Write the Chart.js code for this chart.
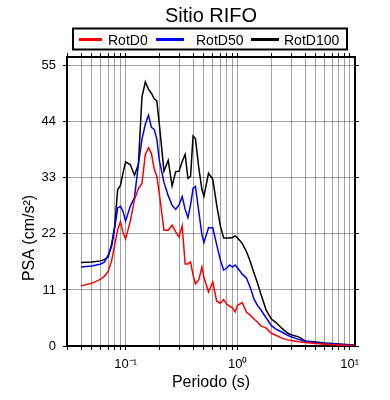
<!DOCTYPE html>
<html>
<head>
<meta charset="utf-8">
<script src="https://cdn.jsdelivr.net/npm/chart.js@4.4.1/dist/chart.umd.min.js"></script>
<style>
  html, body { margin: 0; padding: 0; background: #ffffff; }
  #wrap { width: 390px; height: 400px; }
</style>
</head>
<body>
<div id="wrap"><canvas id="c" width="390" height="400"></canvas></div>
<script>
// ---- data ----
const chartTitle = 'Sitio RIFO';
const xTitle = 'Periodo (s)';
const yTitle = 'PSA (cm/s²)';
const seriesNames = ['RotD0', 'RotD50', 'RotD100'];
const seriesColors = ['#ff0000', '#0000ff', '#000000'];

const periods = [0.04, 0.05, 0.06, 0.065, 0.07, 0.075, 0.08, 0.085, 0.09, 0.095,
  0.1, 0.11, 0.12, 0.13, 0.14, 0.15, 0.16, 0.17, 0.18, 0.19,
  0.2, 0.22, 0.24, 0.26, 0.28, 0.3, 0.32, 0.34, 0.36, 0.38,
  0.4, 0.42, 0.45, 0.48, 0.5, 0.55, 0.6, 0.65, 0.7, 0.75,
  0.8, 0.85, 0.9, 0.95, 1.0, 1.1, 1.2, 1.3, 1.4, 1.5,
  1.6, 1.8, 2.0, 2.2, 2.5, 2.8, 3.0, 3.5, 4, 5,
  6, 7, 8, 10, 11];

const rotD0 = [11.8, 12.3, 13.1, 13.7, 14.7, 16.7, 19.9, 22.8, 24.4, 22.2,
  21.0, 24.4, 28.7, 30.9, 31.9, 37.6, 38.9, 37.8, 34.7, 33.3,
  29.9, 22.7, 22.7, 23.7, 22.4, 21.4, 23.6, 16.1, 16.1, 16.5,
  13.9, 12.2, 13.0, 15.5, 13.5, 10.6, 12.6, 8.8, 8.4, 9.1,
  8.2, 7.8, 7.5, 6.7, 8.0, 8.5, 6.6, 6.0, 5.3, 4.7,
  4.0, 3.5, 2.5, 2.1, 1.5, 1.2, 1.1, 0.83, 0.67, 0.47,
  0.34, 0.26, 0.18, 0.1, 0.08];

const rotD50 = [15.5, 15.7, 16.1, 16.5, 17.9, 19.5, 23.2, 27.1, 27.4, 26.4,
  24.5, 27.4, 29.1, 35.6, 40.6, 43.5, 45.3, 42.9, 42.5, 40.6,
  36.4, 32.1, 29.5, 27.6, 26.8, 27.7, 29.3, 26.8, 25.2, 27.7,
  30.9, 31.3, 26.4, 21.8, 20.3, 23.2, 23.2, 19.9, 16.9, 14.9,
  15.3, 15.9, 15.5, 15.9, 15.3, 14.1, 13.3, 11.4, 9.2, 8.0,
  7.2, 5.5, 4.0, 3.3, 2.7, 2.1, 1.8, 1.3, 0.87, 0.63,
  0.47, 0.37, 0.3, 0.18, 0.14];

const rotD100 = [16.4, 16.5, 16.7, 17.0, 17.5, 19.9, 23.6, 30.7, 31.5, 34.0,
  36.1, 35.6, 33.5, 35.6, 48.9, 51.8, 50.4, 49.6, 48.5, 48.1,
  43.5, 34.3, 36.4, 31.4, 34.2, 34.3, 36.2, 37.6, 32.9, 33.3,
  41.2, 40.7, 35.0, 30.7, 29.4, 33.9, 32.7, 27.7, 23.6, 21.2,
  21.2, 21.2, 21.3, 21.6, 21.2, 20.1, 18.5, 16.5, 14.3, 12.4,
  10.4, 7.0, 5.3, 4.6, 3.4, 2.5, 2.2, 1.8, 1.0, 0.8,
  0.6, 0.47, 0.37, 0.24, 0.2];

const xMajorTicks = [0.1, 1, 10];
const xMajorLabels = ['10⁻¹', '10⁰', '10¹'];
const xMinorMultipliers = [1, 2, 3, 4, 5, 6, 7, 8, 9];
const xDecades = [0.01, 0.1, 1, 10];
const yTicks = [0, 11, 22, 33, 44, 55];
const yTickLabels = ['0', '11', '22', '33', '44', '55'];

const xMin = 0.03, xMax = 11.15;
const yMin = 0, yMax = 56.7;

// ---- build ----
const seriesValues = [rotD0, rotD50, rotD100];
const datasets = seriesValues.map((vals, i) => ({
  label: seriesNames[i],
  data: periods.map((p, k) => ({ x: p, y: vals[k] })),
  borderColor: seriesColors[i],
  backgroundColor: seriesColors[i],
  borderWidth: 1.5,
  pointRadius: 0,
  tension: 0,
  showLine: true,
  fill: false
}));

function xTickObjects() {
  const out = [];
  xDecades.forEach(d => xMinorMultipliers.forEach(m => {
    const v = parseFloat((m * d).toPrecision(6));
    if (v >= xMin - 1e-9 && v <= xMax + 1e-9) out.push({ value: v });
  }));
  return out;
}
function xLabelFor(v) {
  for (let i = 0; i < xMajorTicks.length; i++) {
    if (Math.abs(v - xMajorTicks[i]) < 1e-9 * Math.max(1, v)) return xMajorLabels[i];
  }
  return '';
}

const FONT = 'Liberation Sans, Arial, Helvetica, sans-serif';
const GRID = 'rgba(0,0,0,0.36)';

const decorPlugin = {
  id: 'decor',
  afterDraw(chart) {
    const ctx = chart.ctx;
    const ca = chart.chartArea;
    ctx.save();
    ctx.fillStyle = '#000';
    // title
    ctx.font = '20px ' + FONT;
    ctx.textAlign = 'center';
    ctx.textBaseline = 'alphabetic';
    ctx.fillText(chartTitle, (ca.left + ca.right) / 2, 22);
    // x title
    ctx.font = '16px ' + FONT;
    ctx.fillText(xTitle, (ca.left + ca.right) / 2, 387);
    // y title
    ctx.save();
    ctx.translate(34, 238);
    ctx.rotate(-Math.PI / 2);
    ctx.fillText(yTitle, 0, 0);
    ctx.restore();
    // legend box
    ctx.lineWidth = 2;
    ctx.strokeStyle = '#000';
    ctx.strokeRect(73, 28.5, 274, 21);
    const sw = [[79, 102], [156, 184], [251, 279]];
    const tx = [108, 196, 284];
    ctx.font = '14px ' + FONT;
    ctx.textAlign = 'left';
    chart.data.datasets.forEach((ds, i) => {
      ctx.strokeStyle = ds.borderColor;
      ctx.lineWidth = 3;
      ctx.beginPath();
      ctx.moveTo(sw[i][0], 39.5);
      ctx.lineTo(sw[i][1], 39.5);
      ctx.stroke();
      ctx.fillStyle = '#000';
      ctx.fillText(ds.label, tx[i], 44.5);
    });
    ctx.restore();
  }
};

new Chart(document.getElementById('c'), {
  type: 'scatter',
  data: { datasets },
  plugins: [decorPlugin],
  options: {
    responsive: false,
    animation: false,
    devicePixelRatio: 1,
    layout: { padding: { left: 0, right: 30, top: 52, bottom: 0 } },
    plugins: { legend: { display: false }, tooltip: { enabled: false }, title: { display: false } },
    scales: {
      x: {
        type: 'logarithmic',
        position: 'bottom',
        min: xMin, max: xMax,
        afterBuildTicks: s => { s.ticks = xTickObjects(); },
        afterFit: s => { s.height = 54; s.paddingLeft = 0; s.paddingRight = 0; },
        grid: { color: GRID, lineWidth: 1, drawTicks: true, tickLength: 4, tickColor: '#000', tickWidth: 1 },
        border: { display: true, color: '#000', width: 2 },
        ticks: {
          autoSkip: false, maxRotation: 0, minRotation: 0, padding: 7,
          color: '#000', font: { family: FONT, size: 13 },
          callback: v => xLabelFor(v)
        }
      },
      x2: {
        type: 'logarithmic',
        position: 'top',
        min: xMin, max: xMax,
        afterBuildTicks: s => { s.ticks = xTickObjects(); },
        afterFit: s => { s.height = 5; s.paddingLeft = 0; s.paddingRight = 0; },
        grid: { drawOnChartArea: false, drawTicks: true, tickLength: 4, tickColor: '#000', tickWidth: 1 },
        border: { display: true, color: '#000', width: 2 },
        ticks: { display: false }
      },
      y: {
        type: 'linear',
        position: 'left',
        min: yMin, max: yMax,
        afterBuildTicks: s => { s.ticks = yTicks.map(v => ({ value: v })); },
        afterFit: s => { s.width = 67; s.paddingTop = 0; s.paddingBottom = 0; },
        grid: { color: GRID, lineWidth: 1, drawTicks: true, tickLength: 4, tickColor: '#000', tickWidth: 1 },
        border: { display: true, color: '#000', width: 2 },
        ticks: {
          padding: 7, color: '#000', font: { family: FONT, size: 13 },
          callback: (v) => { const i = yTicks.indexOf(v); return i >= 0 ? yTickLabels[i] : ''; }
        }
      },
      y2: {
        type: 'linear',
        position: 'right',
        min: yMin, max: yMax,
        afterBuildTicks: s => { s.ticks = yTicks.map(v => ({ value: v })); },
        afterFit: s => { s.width = 5; s.paddingTop = 0; s.paddingBottom = 0; },
        grid: { drawOnChartArea: false, drawTicks: true, tickLength: 4, tickColor: '#000', tickWidth: 1 },
        border: { display: true, color: '#000', width: 2 },
        ticks: { display: false }
      }
    }
  }
});
</script>
</body>
</html>
